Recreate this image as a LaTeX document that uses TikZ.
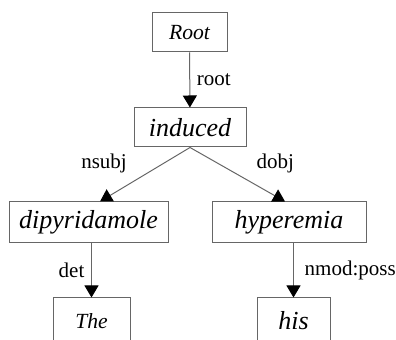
\documentclass[tikz,border=0pt]{standalone}
\usepackage{fontspec}
\setmainfont{Liberation Serif}
\usetikzlibrary{arrows.meta}
\newcommand{\wordSmall}[1]{{\fontsize{10.8}{12}\selectfont\itshape #1}}
\newcommand{\wordLarge}[1]{{\fontsize{13}{15}\selectfont\itshape #1}}

\begin{document}
\begin{tikzpicture}[x=0.5pt,y=-0.5pt,
  word/.style={draw=black!60,line width=0.5pt,inner sep=0pt},
  dep/.style={-{Triangle[width=7pt,length=6pt,color=black]},
    every edge/.style={draw=black!60,line width=0.5pt}},
  rel/.style={font=\fontsize{10.5}{12}\selectfont,text=black}]
 \clip (0,0) rectangle (396,340);
 \node[word,minimum width=37.5pt,minimum height=19.5pt] (root) at (189.5,32.5) {\wordSmall{Root}};
 \node[word,minimum width=56pt,minimum height=19.5pt] (induced) at (190,127.5) {\wordLarge{induced}};
 \node[word,minimum width=79.5pt,minimum height=20.5pt] (dipy) at (88.5,222.5) {\wordLarge{dipyridamole}};
 \node[word,minimum width=77pt,minimum height=20.5pt] (hyper) at (289,222.5) {\wordLarge{hyperemia}};
 \node[word,minimum width=38.5pt,minimum height=23pt] (the) at (91.5,321) {\wordSmall{The}};
 \node[word,minimum width=36.5pt,minimum height=23pt] (his) at (293.5,321) {\wordLarge{his}};
  \path[dep]
    (root) edge node [rel,right] {root} (induced)
    (induced.south) edge node [rel,above left,xshift=-5.5pt,yshift=-3pt] {nsubj} ([xshift=5.75pt]dipy.north)
    (induced.south) edge node [rel,above right,xshift=6pt,yshift=-3pt] {dobj} ([xshift=-2pt]hyper.north)
    (dipy.south -| the.north) edge node [rel,left] {det} (the.north)
    (hyper.south -| his.north) edge node [rel,right,xshift=2pt] {nmod:poss} (his.north);
\end{tikzpicture}
\end{document}
